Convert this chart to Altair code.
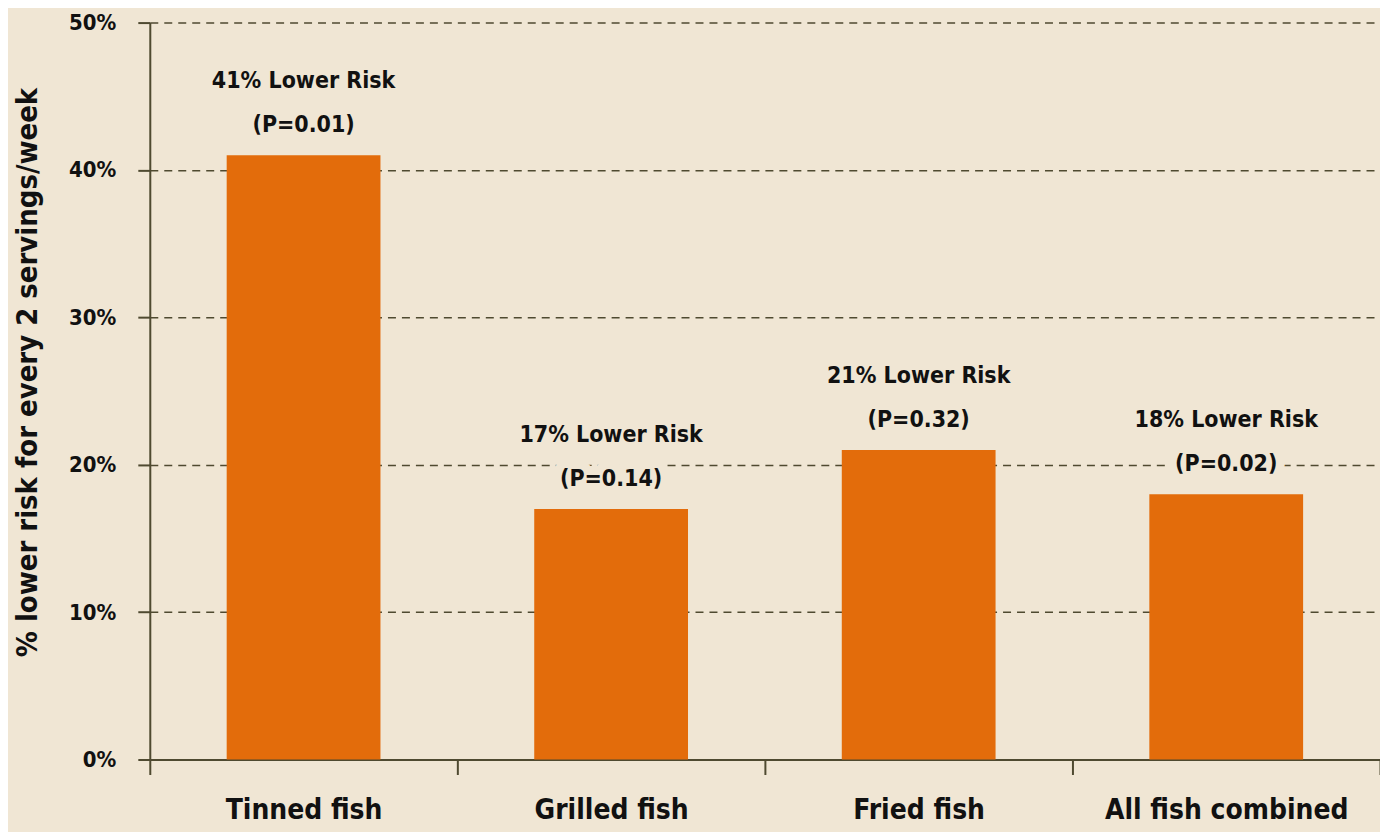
import altair as alt
import pandas as pd

categories = ["Tinned fish", "Grilled fish", "Fried fish", "All fish combined"]
values = [41, 17, 21, 18]
line1 = ["41% Lower Risk", "17% Lower Risk", "21% Lower Risk", "18% Lower Risk"]
line2 = ["(P=0.01)", "(P=0.14)", "(P=0.32)", "(P=0.02)"]

df = pd.DataFrame({
    "cat": categories,
    "val": [v / 100 for v in values],
    "label": [a + "\n" + b for a, b in zip(line1, line2)],
})

BG = "#f0e6d4"
BAR = "#e36c0b"
AX = "#4f4a30"
FONT = "'DejaVu Sans Condensed', 'Liberation Sans', sans-serif"

x = alt.X("cat:N", sort=categories, title=None,
          scale=alt.Scale(paddingInner=0, paddingOuter=0),
          axis=alt.Axis(labelAngle=0, labelFont=FONT, labelFontSize=28, labelFontWeight="bold",
                        labelColor="#111111", labelPadding=22, labelLimit=0, tickBand="extent",
                        domainColor=AX, domainWidth=2, tickColor=AX, tickWidth=2, tickSize=15,
                        grid=False))
y = alt.Y("val:Q", title="% lower risk for every 2 servings/week",
          scale=alt.Scale(domain=[0, 0.5], nice=False),
          axis=alt.Axis(format=".0%", values=[0, 0.1, 0.2, 0.3, 0.4, 0.5],
                        labelFont=FONT, labelFontSize=22, labelFontWeight="bold", labelColor="#111111",
                        labelPadding=22, tickColor=AX, tickWidth=2, tickSize=12,
                        domainColor=AX, domainWidth=2,
                        grid=True, gridColor=AX, gridDash=[8, 6], gridWidth=1.5,
                        titleFont=FONT, titleFontSize=29, titleFontWeight="bold", titleColor="#111111",
                        titleX=-122, titleY=350, titleBaseline="middle", titleAngle=-90))

bars = alt.Chart(df).mark_bar(color=BAR, width=alt.RelativeBandSize(0.5)).encode(x=x, y=y)

halo = alt.Chart(df).mark_text(
    font=FONT, fontSize=23, fontWeight="bold", lineBreak="\n", lineHeight=44,
    baseline="bottom", dy=-62, fill=BG, stroke=BG, strokeWidth=18, strokeJoin="round"
).encode(x=alt.X("cat:N", sort=categories), y="val:Q", text="label:N")

labels = alt.Chart(df).mark_text(
    font=FONT, fontSize=23, fontWeight="bold", lineBreak="\n", lineHeight=44,
    baseline="bottom", dy=-62, color="#111111"
).encode(x=alt.X("cat:N", sort=categories), y="val:Q", text="label:N")

chart = alt.layer(bars, halo, labels).properties(
    width=1232, height=738,
    autosize=alt.AutoSizeParams(type="none"),
    padding={"left": 142, "top": 14, "right": 0, "bottom": 72},
    background=BG,
).configure_view(stroke=None)

chart.save("out.html", embed_options={"renderer": "svg", "actions": False})
